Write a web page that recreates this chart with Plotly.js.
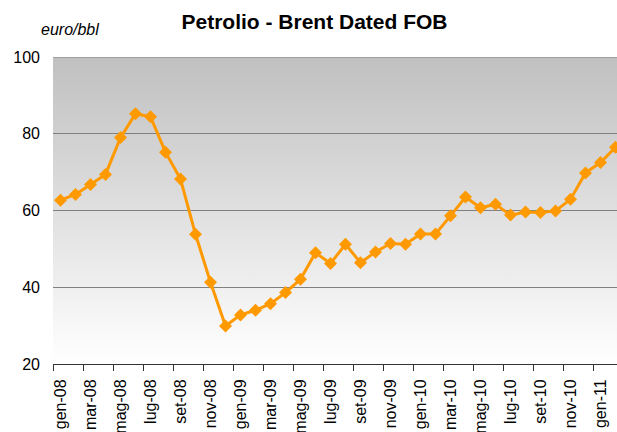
<!DOCTYPE html>
<html>
<head>
<meta charset="utf-8">
<script src="https://cdn.plot.ly/plotly-3.0.1.min.js"></script>
<style>
html, body { margin: 0; padding: 0; overflow: hidden; background: #ffffff; width: 617px; height: 432px; }
#chart { width: 630px; height: 432px; }
</style>
</head>
<body>
<div id="chart"></div>
<script>
var months = ["gen-08","feb-08","mar-08","apr-08","mag-08","giu-08","lug-08","ago-08","set-08","ott-08","nov-08","dic-08",
              "gen-09","feb-09","mar-09","apr-09","mag-09","giu-09","lug-09","ago-09","set-09","ott-09","nov-09","dic-09",
              "gen-10","feb-10","mar-10","apr-10","mag-10","giu-10","lug-10","ago-10","set-10","ott-10","nov-10","dic-10",
              "gen-11","feb-11"];
var brent = [62.7, 64.2, 66.8, 69.4, 79.0, 85.2, 84.4, 75.2, 68.2, 53.8, 41.3, 29.9,
             32.8, 34.0, 35.7, 38.6, 42.1, 49.0, 46.2, 51.2, 46.4, 49.2, 51.4, 51.2,
             53.9, 53.9, 58.6, 63.5, 60.7, 61.6, 58.8, 59.6, 59.5, 59.9, 62.9, 69.8,
             72.5, 76.5];
var yTicks = [20, 40, 60, 80, 100];

var idx = months.map(function (m, i) { return i; });
var labelIdx = idx.filter(function (i) { return i % 2 === 0; });
var labelText = labelIdx.map(function (i) { return months[i]; });
var boundaries = labelIdx.map(function (i) { return i - 0.5; });

var svg = '<svg xmlns="http://www.w3.org/2000/svg" width="100" height="100" preserveAspectRatio="none">' +
  '<defs><linearGradient id="g" x1="0" y1="0" x2="0" y2="1">' +
  '<stop offset="0" stop-color="#c0c0c0"/><stop offset="1" stop-color="#ffffff"/></linearGradient></defs>' +
  '<rect width="100" height="100" fill="url(#g)"/></svg>';
var bgSrc = 'data:image/svg+xml;charset=utf-8,' + encodeURIComponent(svg);

var trace = {
  x: idx,
  y: brent,
  text: months,
  type: 'scatter',
  mode: 'lines+markers',
  line: { color: '#FF9900', width: 3 },
  marker: { symbol: 'diamond', size: 10, color: '#FF9900' },
  hoverinfo: 'text+y',
  showlegend: false,
  cliponaxis: true
};

var layout = {
  width: 630,
  height: 432,
  margin: { l: 53, r: 7, t: 57, b: 68 },
  paper_bgcolor: '#ffffff',
  plot_bgcolor: 'rgba(0,0,0,0)',
  font: { family: 'Liberation Sans, Arial, sans-serif', color: '#000000' },
  title: {
    text: '<b>Petrolio - Brent Dated FOB</b>',
    font: { size: 21, family: 'Liberation Sans, Arial, sans-serif', color: '#000000' },
    x: 314.5 / 630, xanchor: 'center',
    y: 1 - 22 / 432, yanchor: 'middle'
  },
  xaxis: {
    range: [-0.5, months.length - 0.5],
    tickmode: 'array',
    tickvals: labelIdx,
    ticktext: labelText,
    tickangle: -90,
    ticks: '',
    ticklabelstandoff: 8,
    tickfont: { size: 16 },
    showgrid: false,
    zeroline: false,
    showline: true,
    linecolor: '#333333',
    linewidth: 1,
    minor: {
      tickmode: 'array',
      tickvals: boundaries,
      ticks: 'outside',
      ticklen: 6,
      tickcolor: '#333333',
      tickwidth: 1,
      showgrid: false
    },
    fixedrange: true
  },
  yaxis: {
    range: [20, 100],
    tickmode: 'array',
    tickvals: yTicks,
    ticks: '',
    ticklabelstandoff: 12,
    tickfont: { size: 16 },
    showgrid: true,
    gridcolor: '#808080',
    gridwidth: 1,
    zeroline: false,
    showline: false,
    fixedrange: true
  },
  images: [{
    source: bgSrc,
    xref: 'paper', yref: 'paper',
    x: 0, y: 1, sizex: 1, sizey: 1,
    xanchor: 'left', yanchor: 'top',
    sizing: 'stretch',
    layer: 'below'
  }],
  annotations: [{
    text: '<i>euro/bbl</i>',
    xref: 'paper', yref: 'paper',
    x: -53 / 570 + 39 / 570, y: 1 + 27 / 307,
    xanchor: 'left', yanchor: 'middle',
    showarrow: false,
    font: { size: 16, color: '#000000' }
  }],
  shapes: [{
    type: 'line', xref: 'paper', yref: 'y',
    x0: 0, x1: 1, y0: 100, y1: 100,
    line: { color: '#808080', width: 1 },
    layer: 'above'
  }]
};

Plotly.newPlot('chart', [trace], layout, { displayModeBar: false, staticPlot: true });
</script>
</body>
</html>
